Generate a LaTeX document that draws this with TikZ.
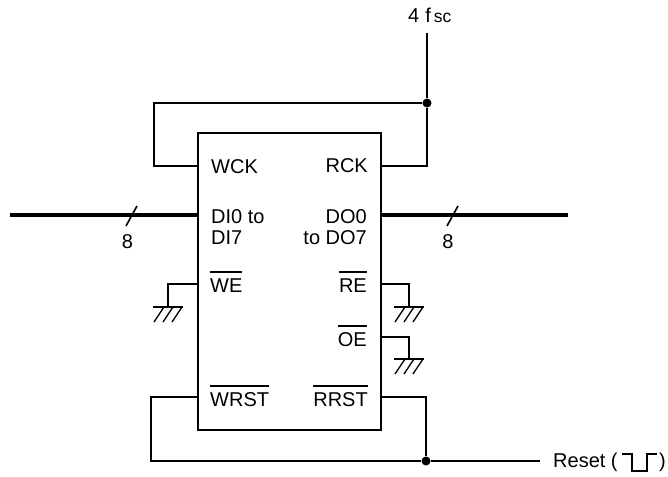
\documentclass[tikz,border=0pt]{standalone}
\usepackage{fontspec}
\setmainfont{Liberation Sans}
\newcommand\ovl[1]{\leavevmode\vbox{\hrule height 1.1pt\kern 5.2pt\hbox{\vrule height 14.3pt width 0pt #1}}}
\tikzset{
  pinlabel/.style={inner sep=0pt,font=\fontsize{20}{24}\selectfont},
  lw/.style={pinlabel,anchor=base west},
  le/.style={pinlabel,anchor=base east},
  wire/.style={line width=1.5pt,line cap=butt,line join=miter},
  bus/.style={line width=4pt},
  slash/.style={line width=1.6pt},
  dot/.style={circle,fill=black,inner sep=0pt,minimum size=9pt},
  chip/.style={draw,line width=2pt,inner sep=0pt,minimum width=183pt,minimum height=297pt},
  gndbar/.style={line width=2.4pt},
  gndtick/.style={line width=1.3pt},
  gnd/.pic={
    \draw[gndbar] (-15,0) -- (15,0);
    \foreach \a in {-4,5,14} \draw[gndtick] (\a,0) -- (\a-10,15);
  }
}
\begin{document}
\begin{tikzpicture}[x=1pt,y=-1pt]
\useasboundingbox (0,0) rectangle (668,476);
\node[chip,anchor=north west] (ic) at (197,132) {};
% pins
\node[lw] (wck) at (211,173) {WCK};
\node[le] (rck) at (368,172) {RCK};
\node[lw] (di0) at (211,223) {DI0 to};
\node[lw] (di7) at (211,244) {DI7};
\node[le] (do0) at (367,223) {DO0};
\node[le] (do7) at (367,244) {to DO7};
\node[lw] (we) at (210,292) {\ovl{WE}};
\node[le] (re) at (367,292) {\ovl{RE}};
\node[le] (oe) at (367,346) {\ovl{OE}};
\node[lw] (wrst) at (210,406) {\ovl{WRST}};
\node[le] (rrst) at (368,406) {\ovl{RRST}};
% anchors on the chip edge
\coordinate (pwck) at (197,166);
\coordinate (prck) at (380,166);
\coordinate (pdi) at (197,215);
\coordinate (pdo) at (380,215);
\coordinate (pwe) at (197,284);
\coordinate (pre) at (380,284);
\coordinate (poe) at (380,337);
\coordinate (pwrst) at (197,397);
\coordinate (prrst) at (380,397);
% clock
\node[dot] (clk) at (427,103) {};
\node[pinlabel,anchor=base west] (fsc) at (408,23) {4\kern6pt f\kern3pt{\fontsize{17.5}{20}\selectfont sc}};
\coordinate (clktop) at (427,33);
\draw[wire] (clktop) -- (clk);
\draw[wire] (clk) |- (prck);
\draw[wire] (clk) -- (154,103) |- (pwck);
% buses
\coordinate (busl) at (10,215);
\coordinate (busr) at (568,215);
\draw[bus] (busl) -- (pdi);
\draw[bus] (pdo) -- (busr);
\coordinate (sl1a) at (126,226); \coordinate (sl1b) at (137,206);
\coordinate (sl2a) at (447,226); \coordinate (sl2b) at (458,206);
\draw[slash] (sl1a) -- (sl1b);
\draw[slash] (sl2a) -- (sl2b);
\node[pinlabel,anchor=base] (n1) at (127.5,248) {8};
\node[pinlabel,anchor=base] (n2) at (448,248) {8};
% grounds
\coordinate (g1) at (168,307);
\coordinate (g2) at (409,307);
\coordinate (g3) at (409,359);
\draw[wire] (pwe) -| (g1);
\draw[wire] (pre) -| (g2);
\draw[wire] (poe) -| (g3);
\pic at (g1) {gnd};
\pic at (g2) {gnd};
\pic at (g3) {gnd};
% reset
\node[dot] (rst) at (426,461) {};
\coordinate (rstend) at (540,461);
\draw[wire] (prrst) -| (rst);
\draw[wire] (pwrst) -- (151,397) |- (rst);
\draw[wire] (rst) -- (rstend);
\node[pinlabel,anchor=base west] (rl) at (553,467) {Reset (};
\node[pinlabel,anchor=base east] (rp) at (666,467) {)};
\draw[line width=1.5pt] (622,454) -- (632,454) -- (632,471) -- (647,471) -- (647,454) -- (657,454);
\end{tikzpicture}
\end{document}
